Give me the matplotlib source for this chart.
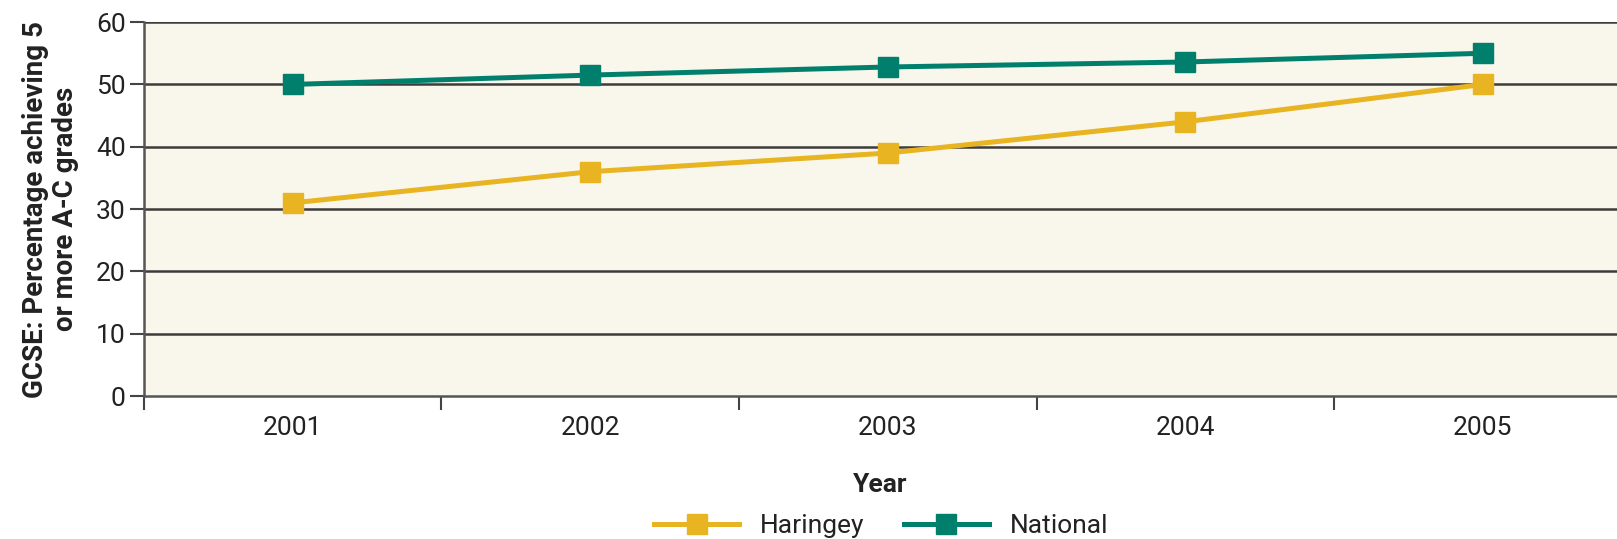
import matplotlib.pyplot as plt
import numpy as np

years = ["2001", "2002", "2003", "2004", "2005"]
haringey = [31, 36, 39, 44, 50]
national = [50, 51.5, 52.8, 53.6, 55]
y_ticks = [0, 10, 20, 30, 40, 50, 60]

plt.rcParams["font.family"] = ["Roboto", "DejaVu Sans"]

fig = plt.figure(figsize=(16.17, 5.39), dpi=100)
ax = fig.add_axes([0.089, 0.265, 0.911, 0.694])
ax.set_facecolor("#f9f6ec")

x = np.arange(len(years))
ax.plot(x, haringey, color="#e8b422", lw=3.6, marker="s", ms=14,
        label="Haringey", zorder=3)
ax.plot(x, national, color="#00806c", lw=3.6, marker="s", ms=14,
        label="National", zorder=3)

ax.set_xlim(-0.5, 4.451)
ax.set_ylim(0, 60)
ax.set_yticks(y_ticks)
ax.tick_params(axis="y", labelsize=19, length=10, width=1.5, color="#444444",
               pad=3, labelcolor="#222222")
for v in y_ticks[1:]:
    ax.axhline(v, color="#3c3c3c", lw=1.8, zorder=1)

ax.set_xticks(x)
ax.set_xticklabels(years)
ax.tick_params(axis="x", length=0, labelsize=19, pad=14, labelcolor="#222222")
ax.set_xticks(np.arange(-0.5, 4.5, 1.0), minor=True)
ax.tick_params(axis="x", which="minor", length=10, width=1.5, color="#444444",
               direction="out")

for s in ["top", "right"]:
    ax.spines[s].set_visible(False)
for s in ["left", "bottom"]:
    ax.spines[s].set_color("#555555")
    ax.spines[s].set_linewidth(1.8)

ax.set_xlabel("Year", fontsize=19, fontweight="bold", labelpad=24,
              color="#222222")
ax.set_ylabel("GCSE: Percentage achieving 5\nor more A-C grades", fontsize=20,
              fontweight="bold", labelpad=12, linespacing=1.15, color="#222222")

fig.legend(loc="center", bbox_to_anchor=(0.545, 0.024), ncol=2, frameon=False,
           fontsize=19, handlelength=3.2, columnspacing=1.5, handletextpad=0.8,
           labelcolor="#222222")

fig.savefig("out.png", dpi=100)
